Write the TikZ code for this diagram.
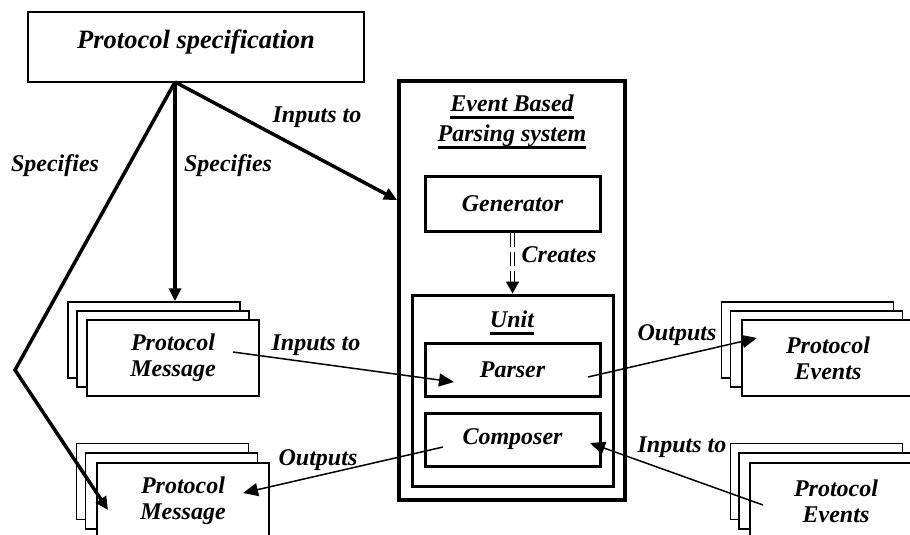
\documentclass[tikz,border=0pt]{standalone}
\usepackage{fontspec}
\setmainfont{Liberation Serif}
\usetikzlibrary{arrows.meta}

% thick underline, as in the drawing
\newcommand{\ulbox}[1]{\leavevmode\setbox0=\hbox{#1}\rlap{\rule[-7pt]{\wd0}{2.8pt}}\box0}

\begin{document}
\begin{tikzpicture}[x=1pt,y=-1pt,
	every node/.style={font=\bfseries\itshape\fontsize{24}{26}\selectfont, align=center},
	sheet/.style={draw, fill=white, line width=1.5pt, minimum width=172pt, minimum height=76pt, inner sep=0pt},
	part/.style={draw, line width=3pt, minimum width=175pt, minimum height=55pt, inner sep=0pt},
	thickarrow/.style={line width=3.5pt, -{Triangle[length=13pt,width=12pt]}},
	thinarrow/.style={line width=1.5pt, -{Triangle[length=15pt,width=13pt]}}]
	\clip (0,0) rectangle (910,535);

	\node[draw, line width=1.5pt, minimum width=336pt, minimum height=70pt, text depth=15pt, font=\bfseries\itshape\fontsize{26.5}{28}\selectfont] (spec) at (196,47) {Protocol specification};

	% the parsing system
	\node[draw, line width=4pt, minimum width=226pt, minimum height=419pt] (sys) at (512,290.5) {};
	\node (systitle) at (512,122) {\ulbox{Event Based}\\[4pt]\ulbox{Parsing system}};
	\node[part] (gen) at (512.5,203.5) {Generator};
	\node[draw, line width=3pt, minimum width=201pt, minimum height=191pt] (unit) at (512.5,390.5) {};
	\node (unitlbl) at (512,323) {\ulbox{Unit}};
	\node[part, minimum height=53pt] (parser) at (512.5,369.5) {Parser};
	\node[part, minimum height=53pt] (composer) at (512.5,439.5) {Composer};
	\draw[double, double distance=2.2pt, line width=1.5pt, dash pattern=on 14pt off 5pt, -{Triangle[length=12pt,width=13pt]}] (gen.south) -- (unit.north);
	\node (creates) at (559,255) {Creates};

	% stacks
	\node[sheet] (msgA3) at (154,340) {};
	\node[sheet] (msgA2) at (163,349) {};
	\node[sheet] (msgA) at (173,358) {Protocol\\Message};

	\node[sheet] (msgB3) at (162.5,481.5) {};
	\node[sheet] (msgB2) at (171.5,491) {};
	\node[sheet] (msgB) at (183,501) {Protocol\\Message};

	\node[sheet] (evA3) at (807.5,340) {};
	\node[sheet] (evA2) at (816.5,349) {};
	\node[sheet] (evA) at (828,358) {Protocol\\Events};

	\node[sheet] (evB3) at (816.5,481.5) {};
	\node[sheet] (evB2) at (825,491) {};
	\node[sheet] (evB) at (836,501) {Protocol\\Events};

	% from the specification
	\coordinate (hub) at (175,82);
	\coordinate (bend) at (15,370);
	\coordinate (msgBtip) at (108,510);
	\coordinate (sysin) at (sys.west |- 0,200);
	\draw[thickarrow] (hub) -- (hub |- msgA3.north);
	\draw[thickarrow] (hub) -- (sysin);
	\draw[thickarrow] (hub) -- (bend) -- (msgBtip);
	\node (specL) at (55,166) {Specifies};
	\node (specM) at (228,166) {Specifies};
	\node (inSys) at (317,117) {Inputs to};

	% messages and events
	\coordinate (msgAout) at (233,352);
	\coordinate (parserin) at (454,382);
	\coordinate (parserout) at (588,377);
	\coordinate (evAin) at (757,338);
	\coordinate (composerout) at (443,447);
	\coordinate (msgBin) at (243,493);
	\coordinate (evBout) at (763,505);
	\coordinate (composerin) at (590,443);
	\draw[thinarrow] (msgAout) -- (parserin);
	\draw[thinarrow] (parserout) -- (evAin);
	\draw[thinarrow] (composerout) -- (msgBin);
	\draw[thinarrow] (evBout) -- (composerin);
	\node (inParser) at (316,345) {Inputs to};
	\node (outEv) at (677,335) {Outputs};
	\node (outMsg) at (318,460) {Outputs};
	\node (inComp) at (682,447) {Inputs to};
\end{tikzpicture}
\end{document}
